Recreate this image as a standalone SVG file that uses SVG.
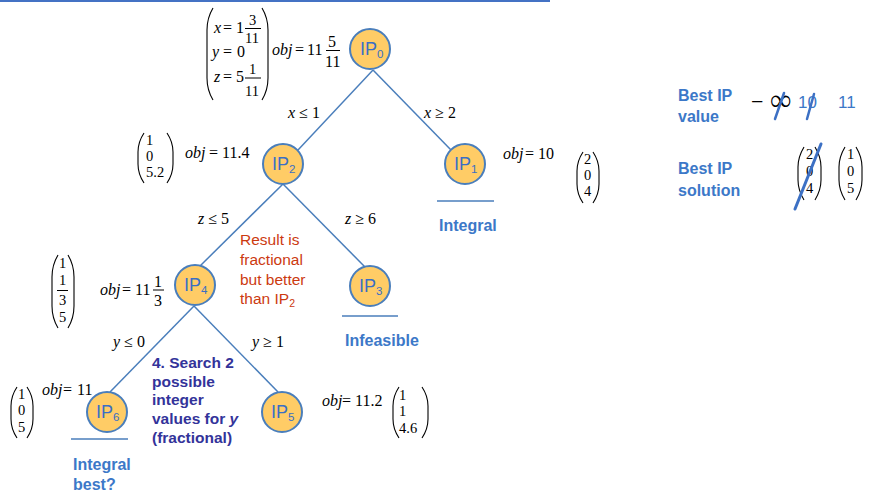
<svg xmlns="http://www.w3.org/2000/svg" width="874" height="495" viewBox="0 0 874 495">
<style>
.m{font-family:"Liberation Serif","Times New Roman",serif;font-size:16px;fill:#000}
.v{font-size:14.5px}
.i{font-style:italic}
.ipt{font-family:"Liberation Sans",Arial,sans-serif;font-size:18px;fill:#3A6FC4}
.sub{font-size:11.5px}
.lbl{font-family:"Liberation Sans",Arial,sans-serif;font-weight:bold;font-size:16px;fill:#3C78C8}
.num{font-family:"Liberation Sans",Arial,sans-serif;font-size:17px;fill:#3C78C8}
.red{font-family:"Liberation Sans",Arial,sans-serif;font-size:15.5px;fill:#CC3A10}
.navy{font-family:"Liberation Sans",Arial,sans-serif;font-weight:bold;font-size:15.5px;fill:#33339A}
.par{fill:none;stroke:#000;stroke-width:1.1}
.bar{stroke:#000;stroke-width:1}
.node{fill:#FFCC66;stroke:#4A7EBB;stroke-width:2}
.edge{stroke:#4A7EBB;stroke-width:1.5;fill:none}
.ul{stroke:#4A7EBB;stroke-width:1.5}
.slash{stroke:#3C70C4;stroke-linecap:round}
</style>

<line x1="0" y1="1" x2="550" y2="1" stroke="#4472C4" stroke-width="2"/>

<g id="connectors">
<line class="edge" x1="373" y1="70" x2="298" y2="150"/>
<line class="edge" x1="373" y1="70" x2="451" y2="150"/>
<line class="edge" x1="283" y1="184" x2="200" y2="266"/>
<line class="edge" x1="283" y1="184" x2="365" y2="267"/>
<line class="edge" x1="194" y1="306" x2="110" y2="392"/>
<line class="edge" x1="194" y1="306" x2="278" y2="392"/>
<text class="m" x="288" y="118"><tspan class="i">x</tspan> ≤ 1</text>
<text class="m" x="424" y="118"><tspan class="i">x</tspan> ≥ 2</text>
<text class="m" x="198" y="224"><tspan class="i">z</tspan> ≤ 5</text>
<text class="m" x="345" y="224"><tspan class="i">z</tspan> ≥ 6</text>
<text class="m" x="113" y="347"><tspan class="i">y</tspan> ≤ 0</text>
<text class="m" x="252" y="347"><tspan class="i">y</tspan> ≥ 1</text>
</g>

<g id="IP0">
<circle class="node" cx="370" cy="49" r="20"/>
<text class="ipt" x="360" y="55">IP<tspan class="sub" dy="3">0</tspan></text>
<path class="par" d="M213 8 Q207 18 207 30 L207 78 Q207 90 213 100"/>
<path class="par" d="M262 8 Q268 18 268 30 L268 78 Q268 90 262 100"/>
<text class="m" y="33"><tspan class="i" x="214">x</tspan><tspan x="223">=</tspan><tspan x="236">1</tspan></text>
<text class="m v" x="249" y="25">3</text>
<line class="bar" x1="245" y1="28.5" x2="261" y2="28.5"/>
<text class="m v" x="245" y="43">11</text>
<text class="m" y="57"><tspan class="i" x="212">y</tspan><tspan x="223">=</tspan><tspan x="237">0</tspan></text>
<text class="m" y="82"><tspan class="i" x="214">z</tspan><tspan x="223">=</tspan><tspan x="236">5</tspan></text>
<text class="m v" x="249" y="74">1</text>
<line class="bar" x1="245" y1="78" x2="261" y2="78"/>
<text class="m v" x="245" y="96">11</text>
<text class="m" y="55"><tspan class="i" x="272">obj</tspan><tspan x="295">=</tspan><tspan x="307">11</tspan></text>
<text class="m" x="328" y="47">5</text>
<line class="bar" x1="326" y1="50.5" x2="340" y2="50.5"/>
<text class="m" x="325" y="67">11</text>
</g>

<g id="IP2">
<circle class="node" cx="283" cy="164" r="20"/>
<text class="ipt" x="272" y="170">IP<tspan class="sub" dy="3">2</tspan></text>
<path class="par" d="M144 133 Q138 142 138 152 L138 164 Q138 174 144 183"/>
<path class="par" d="M167 133 Q173 142 173 152 L173 164 Q173 174 167 183"/>
<text class="m v" x="146" y="145">1</text>
<text class="m v" x="146" y="161">0</text>
<text class="m v" x="146" y="177">5.2</text>
<text class="m" y="158"><tspan class="i" x="185">obj</tspan><tspan x="209">=</tspan><tspan x="222">11.4</tspan></text>
</g>

<g id="IP1">
<circle class="node" cx="465" cy="164" r="20"/>
<text class="ipt" x="454" y="170">IP<tspan class="sub" dy="3">1</tspan></text>
<line class="ul" x1="437" y1="201" x2="494" y2="201"/>
<text class="lbl" x="439" y="231">Integral</text>
<text class="m" y="159"><tspan class="i" x="503">obj</tspan><tspan x="525">=</tspan><tspan x="538">10</tspan></text>
<path class="par" d="M583 152 Q577 161 577 171 L577 184 Q577 194 583 203"/>
<path class="par" d="M593 152 Q599 161 599 171 L599 184 Q599 194 593 203"/>
<text class="m v" x="584" y="164">2</text>
<text class="m v" x="584" y="180">0</text>
<text class="m v" x="584" y="196">4</text>
</g>

<g id="IP4">
<circle class="node" cx="195" cy="285" r="20"/>
<text class="ipt" x="184" y="291">IP<tspan class="sub" dy="3">4</tspan></text>
<path class="par" d="M58 255 Q52 265 52 277 L52 306 Q52 318 58 328"/>
<path class="par" d="M68 255 Q74 265 74 277 L74 306 Q74 318 68 328"/>
<text class="m v" x="59" y="268">1</text>
<text class="m v" x="59" y="285">1</text>
<line class="bar" x1="57" y1="290.5" x2="68" y2="290.5"/>
<text class="m v" x="59" y="305">3</text>
<text class="m v" x="59" y="322">5</text>
<text class="m" y="295"><tspan class="i" x="100">obj</tspan><tspan x="122">=</tspan><tspan x="135">11</tspan></text>
<text class="m" x="154" y="287">1</text>
<line class="bar" x1="153" y1="290" x2="164" y2="290"/>
<text class="m" x="154" y="306">3</text>
<text class="red" x="240" y="245">Result is</text>
<text class="red" x="240" y="265">fractional</text>
<text class="red" x="240" y="285">but better</text>
<text class="red" x="240" y="304">than IP<tspan style="font-size:10.5px" dy="3">2</tspan></text>
</g>

<g id="IP3">
<circle class="node" cx="370" cy="286" r="20"/>
<text class="ipt" x="359" y="292">IP<tspan class="sub" dy="3">3</tspan></text>
<line class="ul" x1="342" y1="316" x2="398" y2="316"/>
<text class="lbl" x="345" y="346">Infeasible</text>
</g>

<g id="IP6">
<circle class="node" cx="107" cy="412" r="20"/>
<text class="ipt" x="96" y="418">IP<tspan class="sub" dy="3">6</tspan></text>
<line class="ul" x1="71" y1="439" x2="128" y2="439"/>
<text class="lbl" x="73" y="470">Integral</text>
<text class="lbl" x="73" y="490">best?</text>
<path class="par" d="M17 387 Q11 396 11 406 L11 419 Q11 429 17 438"/>
<path class="par" d="M27 387 Q33 396 33 406 L33 419 Q33 429 27 438"/>
<text class="m v" x="18" y="399">1</text>
<text class="m v" x="18" y="415">0</text>
<text class="m v" x="18" y="432">5</text>
<text class="m" y="395"><tspan class="i" x="42">obj</tspan><tspan x="63">=</tspan><tspan x="77">11</tspan></text>
<text class="navy" x="152" y="368">4. Search 2</text>
<text class="navy" x="152" y="387">possible</text>
<text class="navy" x="152" y="405">integer</text>
<text class="navy" x="152" y="424">values for <tspan style="font-style:italic">y</tspan></text>
<text class="navy" x="152" y="443">(fractional)</text>
</g>

<g id="IP5">
<circle class="node" cx="282" cy="412" r="20"/>
<text class="ipt" x="271" y="418">IP<tspan class="sub" dy="3">5</tspan></text>
<text class="m" y="406"><tspan class="i" x="322">obj</tspan><tspan x="342">=</tspan><tspan x="355">11.2</tspan></text>
<path class="par" d="M399 387 Q393 396 393 406 L393 419 Q393 429 399 438"/>
<path class="par" d="M422 387 Q428 396 428 406 L428 419 Q428 429 422 438"/>
<text class="m v" x="399" y="400">1</text>
<text class="m v" x="399" y="416">1</text>
<text class="m v" x="399" y="433">4.6</text>
</g>

<g id="best">
<text class="lbl" x="678" y="101">Best IP</text>
<text class="lbl" x="678" y="122">value</text>
<text class="lbl" x="678" y="174">Best IP</text>
<text class="lbl" x="678" y="196">solution</text>
<text class="m" x="751" y="109" style="font-size:22px">−</text>
<text class="m" x="770" y="110" style="font-size:30px">∞</text>
<line class="slash" x1="775" y1="119" x2="784" y2="93" stroke-width="2.5"/>
<text class="num" x="798" y="108">10</text>
<line class="slash" x1="807" y1="119" x2="814" y2="94" stroke-width="2.5"/>
<text class="num" x="838" y="108">11</text>
<path class="par" d="M804 147 Q798 157 798 167 L798 180 Q798 190 804 200"/>
<path class="par" d="M815 147 Q821 157 821 167 L821 180 Q821 190 815 200"/>
<text class="m v" x="806" y="159">2</text>
<text class="m v" x="806" y="176">0</text>
<text class="m v" x="806" y="193">4</text>
<line class="slash" x1="795" y1="209" x2="821" y2="144" stroke-width="3"/>
<path class="par" d="M845 147 Q839 157 839 167 L839 180 Q839 190 845 200"/>
<path class="par" d="M856 147 Q862 157 862 167 L862 180 Q862 190 856 200"/>
<text class="m v" x="847" y="159">1</text>
<text class="m v" x="847" y="176">0</text>
<text class="m v" x="847" y="193">5</text>
</g>
</svg>
